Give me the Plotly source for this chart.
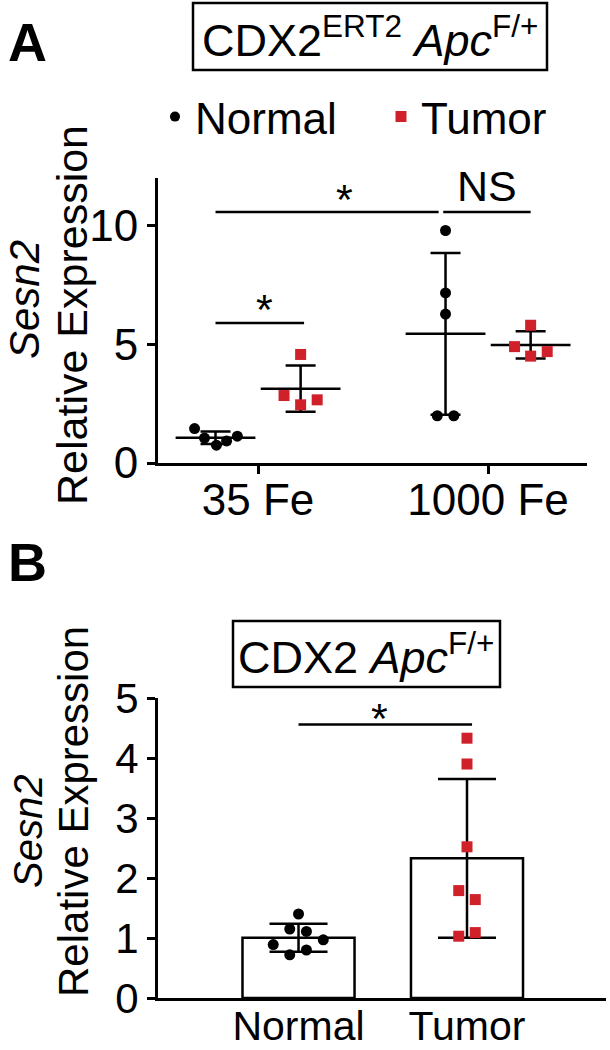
import numpy as np
import plotly.graph_objects as go

# ---------------- data ----------------
groups_a = ["35 Fe", "1000 Fe"]
normal_35 = [1.45, 1.05, 0.75, 0.93, 1.13]
tumor_35 = [4.57, 2.84, 2.45, 2.66]
normal_1000 = [9.79, 7.16, 6.27, 1.99, 1.99]
tumor_1000 = [5.80, 4.90, 4.50, 4.69]

groups_b = ["Normal", "Tumor"]
normal_b = [1.40, 1.15, 1.11, 0.97, 0.89, 0.80, 0.72]
tumor_b = [4.33, 3.90, 2.52, 1.79, 1.64, 1.09, 1.03]

series_names = ["Normal", "Tumor"]
sig_a = ["*", "NS", "*"]
sig_b = ["*"]

# ---------------- styling / positions ----------------
W, H = 610, 1050
RED = "#D0202A"
FONT = "Liberation Sans, Arial, sans-serif"

def px(x):
    return x / W

def py(y):
    return 1 - y / H

jit_n35 = [-0.091, -0.048, 0.004, 0.048, 0.095]
jit_t35 = [0.0, -0.072, 0.0, 0.072]
jit_n1000 = [0.0, 0.0, 0.0, -0.036, 0.036]
jit_t1000 = [0.0, -0.07, 0.0, 0.072]
jit_nb = [0.0, -0.052, 0.047, 0.147, -0.150, 0.047, -0.052]
jit_tb = [0.0, 0.0, 0.0, -0.049, 0.049, 0.049, -0.049]
off = 0.185

fig = go.Figure()

def mean_sd(v):
    a = np.array(v)
    return float(a.mean()), float(a.std(ddof=1))

# ---------------- panel A ----------------
a_sets = [
    (1 - off, normal_35, jit_n35, "Normal"),
    (1 + off, tumor_35, jit_t35, "Tumor"),
    (2 - off, normal_1000, jit_n1000, "Normal"),
    (2 + off, tumor_1000, jit_t1000, "Tumor"),
]
for xc, vals, jit, kind in a_sets:
    m, s = mean_sd(vals)
    fig.add_trace(go.Scatter(
        x=[xc], y=[m], mode="markers", showlegend=False, hoverinfo="skip",
        marker=dict(symbol="line-ew", size=57, color="black",
                    line=dict(width=2.5, color="black")),
        error_y=dict(type="data", array=[s], visible=True, width=15,
                     thickness=2.5, color="black"),
        xaxis="x", yaxis="y"))
for xc, vals, jit, kind in a_sets:
    fig.add_trace(go.Scatter(
        x=[xc + j for j in jit], y=vals, mode="markers", showlegend=False,
        marker=dict(symbol="circle" if kind == "Normal" else "square",
                    size=11, color="black" if kind == "Normal" else RED,
                    line=dict(width=0)),
        xaxis="x", yaxis="y"))

# legend entries
fig.add_trace(go.Scatter(x=[None], y=[None], mode="markers", name=series_names[0],
                         marker=dict(symbol="circle", size=10, color="black"),
                         xaxis="x", yaxis="y"))
fig.add_trace(go.Scatter(x=[None], y=[None], mode="markers", name=series_names[1],
                         marker=dict(symbol="square", size=11, color=RED),
                         xaxis="x", yaxis="y"))

# ---------------- panel B ----------------
mn, sn = mean_sd(normal_b)
mt, st = mean_sd(tumor_b)
fig.add_trace(go.Bar(
    x=[1, 2], y=[mn, mt], width=0.665, showlegend=False,
    marker=dict(color="white", line=dict(color="black", width=2.5)),
    error_y=dict(type="data", array=[sn, st], visible=True, width=29,
                 thickness=2.5, color="black"),
    xaxis="x2", yaxis="y2"))
fig.add_trace(go.Scatter(
    x=[1 + j for j in jit_nb], y=normal_b, mode="markers", showlegend=False,
    marker=dict(symbol="circle", size=11, color="black"),
    xaxis="x2", yaxis="y2"))
fig.add_trace(go.Scatter(
    x=[2 + j for j in jit_tb], y=tumor_b, mode="markers", showlegend=False,
    marker=dict(symbol="square", size=11, color=RED),
    xaxis="x2", yaxis="y2"))

# ---------------- significance marks ----------------
shapes = []
def hline(x0, x1, y, xr, yr):
    shapes.append(dict(type="line", xref=xr, yref=yr, x0=x0, x1=x1, y0=y, y1=y,
                       line=dict(color="black", width=2.5)))

hline(1 - off, 1.785, 10.57, "x", "y")
hline(1.805, 2 + off, 10.57, "x", "y")
hline(1 - off, 1.2, 5.89, "x", "y")
hline(1.0, 2.03, 4.56, "x2", "y2")

# title boxes
shapes.append(dict(type="rect", xref="paper", yref="paper",
                   x0=px(193), x1=px(547), y0=py(70), y1=py(3),
                   line=dict(color="black", width=2.5)))
shapes.append(dict(type="rect", xref="paper", yref="paper",
                   x0=px(233), x1=px(500), y0=py(687), y1=py(621),
                   line=dict(color="black", width=2.5)))

ann = []
def txt(x, y, t, size, xr="paper", yr="paper", angle=0, yshift=0, xshift=0, bold=False):
    ann.append(dict(x=x, y=y, xref=xr, yref=yr, text=t, showarrow=False,
                    xanchor="center", yanchor="middle", textangle=angle,
                    yshift=yshift, xshift=xshift,
                    font=dict(family=FONT, size=size, color="black",
                              weight="bold" if bold else "normal")))

txt(1.374, 11.37, sig_a[0], 43, "x", "y", yshift=-6)
txt(1.996, 11.62, sig_a[1], 43, "x", "y", yshift=1)
txt(1.026, 6.74, sig_a[2], 43, "x", "y", yshift=-6)
txt(1.478, 4.80, sig_b[0], 43, "x2", "y2", yshift=-8)

txt(px(370), py(37), "CDX2<sup>ERT2</sup> <i>Apc</i><sup>F/+</sup>", 45)
txt(px(366), py(654), "CDX2 <i>Apc</i><sup>F/+</sup>", 45)

txt(px(27), py(42), "A", 54, bold=True)
txt(px(27), py(562), "B", 54, bold=True)

txt(px(24), py(300), "<i>Sesn2</i>", 42, angle=-90)
txt(px(72), py(315), "Relative Expression", 43, angle=-90)
txt(px(28), py(832), "<i>Sesn2</i>", 40, angle=-90)
txt(px(73), py(812), "Relative Expression", 42, angle=-90)

axis_common = dict(showline=True, linewidth=3, linecolor="black", showgrid=False,
                   zeroline=False, ticks="outside", ticklen=8, tickwidth=3,
                   tickcolor="black", fixedrange=True, automargin=False)

fig.update_layout(
    width=W, height=H,
    margin=dict(l=0, r=0, t=0, b=0, pad=0, autoexpand=False),
    paper_bgcolor="white", plot_bgcolor="white",
    font=dict(family=FONT, color="black"),
    showlegend=True,
    legend=dict(orientation="h", x=px(155), y=py(117), xanchor="left",
                yanchor="middle", font=dict(family=FONT, size=44),
                entrywidth=181, entrywidthmode="pixels",
                bgcolor="rgba(0,0,0,0)", borderwidth=0),
    xaxis=dict(domain=[px(158), px(587)], range=[0.565, 2.43],
               tickvals=[1, 2], ticktext=groups_a, anchor="y",
               tickfont=dict(size=44), ticklabelstandoff=-12, **axis_common),
    yaxis=dict(domain=[py(463), py(178)], range=[0, 12],
               tickvals=[0, 5, 10], anchor="x",
               tickfont=dict(size=44), **axis_common),
    xaxis2=dict(domain=[px(158), px(606)], range=[0.166, 2.825],
                tickvals=[1, 2], ticktext=groups_b, anchor="y2",
                tickfont=dict(size=41), ticklabelstandoff=-10,
                **{**axis_common, "ticks": "", "ticklen": 0}),
    yaxis2=dict(domain=[py(998), py(698)], range=[0, 5],
                tickvals=[0, 1, 2, 3, 4, 5], anchor="x2",
                tickfont=dict(size=42), **axis_common),
    shapes=shapes, annotations=ann,
)

fig.write_html("out.html",
               config={"displayModeBar": False, "staticPlot": True},
               post_script="document.body.style.margin='0px';")
